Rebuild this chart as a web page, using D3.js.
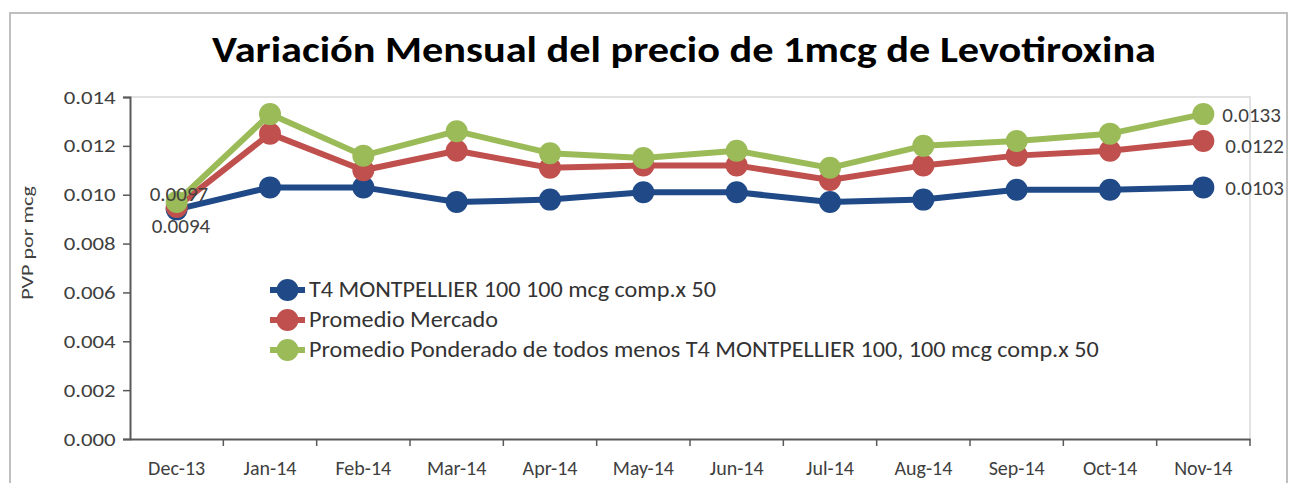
<!DOCTYPE html>
<html>
<head>
<meta charset="utf-8">
<script src="https://cdn.jsdelivr.net/npm/d3@7"></script>
<style>
  body { margin: 0; background: #fff; }
  svg { display: block; font-family: Carlito, Calibri, "Open Sans", sans-serif; }
</style>
</head>
<body>
<svg id="chart" width="1292" height="483"></svg>
<script>
const months = ["Dec-13", "Jan-14", "Feb-14", "Mar-14", "Apr-14", "May-14", "Jun-14", "Jul-14", "Aug-14", "Sep-14", "Oct-14", "Nov-14"];
const t4Values = [0.0094, 0.0103, 0.0103, 0.0097, 0.0098, 0.0101, 0.0101, 0.0097, 0.0098, 0.0102, 0.0102, 0.0103];
const mercadoValues = [0.0095, 0.0125, 0.0110, 0.0118, 0.0111, 0.0112, 0.0112, 0.0106, 0.0112, 0.0116, 0.0118, 0.0122];
const ponderadoValues = [0.0097, 0.0133, 0.0116, 0.0126, 0.0117, 0.0115, 0.0118, 0.0111, 0.0120, 0.0122, 0.0125, 0.0133];
const yTicks = [0, 0.002, 0.004, 0.006, 0.008, 0.010, 0.012, 0.014];

const seriesNames = [
  "T4 MONTPELLIER 100 100 mcg comp.x 50",
  "Promedio Mercado",
  "Promedio Ponderado de todos menos T4 MONTPELLIER 100, 100 mcg comp.x 50"
];
const seriesColors = ["#1f4a87", "#c0504d", "#9bbb59"];
const series = [t4Values, mercadoValues, ponderadoValues];

const svg = d3.select("#chart");

// outer frame
svg.append("rect")
  .attr("x", 10).attr("y", 13)
  .attr("width", 1277).attr("height", 500)
  .attr("fill", "none").attr("stroke", "#bfbfbf").attr("stroke-width", 2);

const margin = {left: 130, right: 1250, top: 97, bottom: 439};

const x = d3.scaleBand().domain(months).range([margin.left, margin.right]).padding(0);
const y = d3.scaleLinear().domain([0, 0.014]).range([margin.bottom, margin.top]);
const cx = m => x(m) + x.bandwidth() / 2;

// title
svg.append("text")
  .attr("x", 684).attr("y", 62)
  .attr("text-anchor", "middle")
  .attr("font-size", 36).attr("font-weight", "bold").attr("fill", "#000")
  .attr("textLength", 944).attr("lengthAdjust", "spacingAndGlyphs")
  .text("Variación Mensual del precio de 1mcg de Levotiroxina");

// plot area border (top/right)
svg.append("path")
  .attr("d", `M${margin.left},${margin.top}H${margin.right}V${margin.bottom}`)
  .attr("fill", "none").attr("stroke", "#d9d9d9").attr("stroke-width", 1.5);

// y axis
const yAxis = svg.append("g")
  .attr("transform", `translate(${margin.left},0)`)
  .call(d3.axisLeft(y).tickValues(yTicks).tickFormat(d3.format(".3f")).tickSize(7).tickPadding(5));
yAxis.select(".domain").attr("stroke", "#595959").attr("stroke-width", 2);
yAxis.selectAll(".tick line").attr("stroke", "#595959").attr("stroke-width", 1.5);
yAxis.selectAll("text").attr("font-size", 19).attr("fill", "#404040")
  .attr("font-family", "Carlito, Calibri, 'Open Sans', sans-serif")
  .attr("transform", "scale(1.2,1)");

// x axis
const xAxis = svg.append("g")
  .attr("transform", `translate(0,${margin.bottom})`)
  .call(d3.axisBottom(x).tickSize(0).tickPadding(22));
xAxis.select(".domain").attr("stroke", "#595959").attr("stroke-width", 2);
xAxis.selectAll("text").attr("font-size", 20).attr("fill", "#404040")
  .attr("font-family", "Carlito, Calibri, 'Open Sans', sans-serif");
xAxis.selectAll(".boundary")
  .data(months.slice(1).map(m => x(m)).concat([x.range()[1]]))
  .join("line")
  .attr("x1", d => d).attr("x2", d => d)
  .attr("y1", 0).attr("y2", 7)
  .attr("stroke", "#595959").attr("stroke-width", 1.5);

// y axis title
svg.append("text")
  .attr("transform", "translate(33,243) rotate(-90) scale(1.3,1)")
  .attr("text-anchor", "middle")
  .attr("font-size", 17).attr("fill", "#404040")
  .text("PVP por mcg");

// lines + markers
const line = d3.line().x((d, i) => cx(months[i])).y(d => y(d));
series.forEach((vals, s) => {
  const g = svg.append("g");
  g.append("path")
    .attr("d", line(vals))
    .attr("fill", "none")
    .attr("stroke", seriesColors[s])
    .attr("stroke-width", 6)
    .attr("stroke-linejoin", "round");
  g.selectAll("circle")
    .data(vals)
    .join("circle")
    .attr("cx", (d, i) => cx(months[i]))
    .attr("cy", d => y(d))
    .attr("r", 11)
    .attr("fill", seriesColors[s]);
});

// data labels
const fmt = d3.format(".4f");
const labelG = svg.append("g").attr("font-size", 21).attr("fill", "#404040");
labelG.append("text")
  .attr("x", cx(months[0]) - 27).attr("y", y(ponderadoValues[0]) - 1)
  .text(fmt(ponderadoValues[0]));
labelG.append("text")
  .attr("x", cx(months[0]) - 25).attr("y", y(t4Values[0]) + 24)
  .text(fmt(t4Values[0]));
const last = months.length - 1;
[ponderadoValues, mercadoValues, t4Values].forEach((vals, k) => {
  labelG.append("text")
    .attr("x", cx(months[last]) + 19 + (k > 0 ? 3 : 0))
    .attr("y", y(vals[last]) + 8 + (k === 1 ? 4 : 0))
    .text(fmt(vals[last]));
});

// legend
const legend = svg.append("g").attr("transform", "translate(270,290)");
seriesNames.forEach((name, i) => {
  const row = legend.append("g").attr("transform", `translate(0,${i * 30})`);
  row.append("line")
    .attr("x1", 0).attr("x2", 35).attr("y1", 0).attr("y2", 0)
    .attr("stroke", seriesColors[i]).attr("stroke-width", 6);
  row.append("circle")
    .attr("cx", 17.5).attr("cy", 0).attr("r", 11)
    .attr("fill", seriesColors[i]);
  row.append("text")
    .attr("transform", "translate(39,7) scale(1.1,1)")
    .attr("font-size", 22).attr("fill", "#333")
    .text(name);
});
</script>
</body>
</html>
